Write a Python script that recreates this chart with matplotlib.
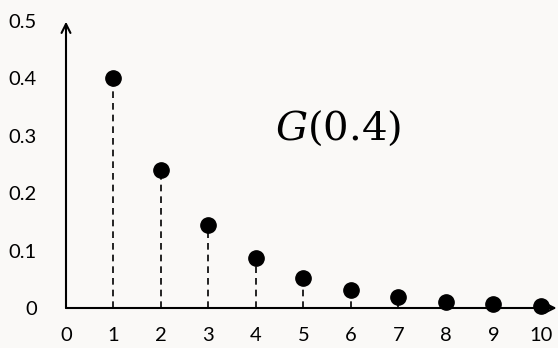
import matplotlib.pyplot as plt
import numpy as np

plt.rcParams['font.family'] = ['Lato', 'DejaVu Sans']
plt.rcParams['mathtext.fontset'] = 'dejavuserif'

k = [1, 2, 3, 4, 5, 6, 7, 8, 9, 10]
p = [0.4, 0.24, 0.144, 0.0864, 0.0518, 0.0311, 0.0187, 0.0112, 0.0067, 0.0040]
xticks = [0, 1, 2, 3, 4, 5, 6, 7, 8, 9, 10]
yticks = [0, 0.1, 0.2, 0.3, 0.4, 0.5]
ylabels = ['0', '0.1', '0.2', '0.3', '0.4', '0.5']

bg = '#faf9f7'
fig = plt.figure(figsize=(5.58, 3.48), dpi=100, facecolor=bg)
ax = fig.add_axes([66/558, 40/348, 492/558, 288/348])
ax.set_facecolor(bg)
ax.set_xlim(0, 10.36)
ax.set_ylim(0, 0.501)

for xi, yi in zip(k, p):
    ax.plot([xi, xi], [0, yi], color='black', lw=1.2, ls=(0, (4, 3)))
ax.plot(k, p, 'o', color='black', ms=11, zorder=5, clip_on=False)

ax.annotate('', xy=(10.33, 0), xytext=(0, 0),
            arrowprops=dict(arrowstyle='->', lw=1.5, color='black', mutation_scale=16, shrinkA=0, shrinkB=0),
            annotation_clip=False)
ax.annotate('', xy=(0, 0.498), xytext=(0, 0),
            arrowprops=dict(arrowstyle='->', lw=1.5, color='black', mutation_scale=16, shrinkA=0, shrinkB=0),
            annotation_clip=False)

for s in ax.spines.values():
    s.set_visible(False)
ax.set_xticks(xticks)
ax.set_yticks(yticks)
ax.set_yticklabels(ylabels)
ax.tick_params(length=0, labelsize=14.5, colors='black')
ax.tick_params(axis='x', pad=14)
ax.tick_params(axis='y', pad=21)

ax.text(5.73, 0.313, '$G$(0.4)', fontsize=29, ha='center', va='center',
        family='DejaVu Serif')

plt.savefig('out.png', dpi=100, facecolor=bg)
